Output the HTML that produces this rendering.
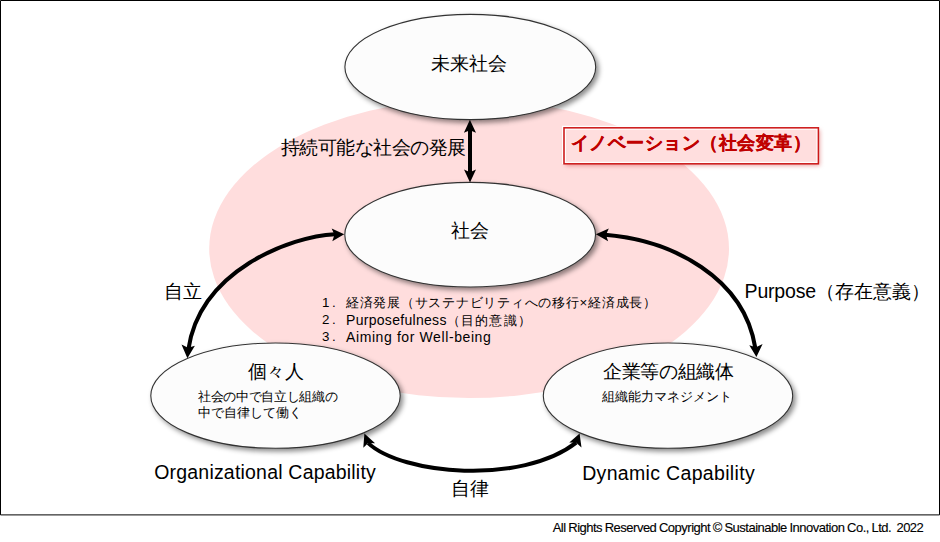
<!DOCTYPE html>
<html lang="ja"><head><meta charset="utf-8"><style>
html,body{margin:0;padding:0;background:#fff;}
body{width:940px;height:542px;overflow:hidden;position:relative;font-family:"Liberation Sans",sans-serif;color:#000;}
svg{position:absolute;left:0;top:0;}
.t{position:absolute;white-space:nowrap;line-height:1;}
</style></head><body>
<svg width="940" height="542" viewBox="0 0 940 542">
<defs>
<filter id="sh" x="-10%" y="-10%" width="125%" height="135%">
<feDropShadow dx="2.6" dy="2.8" stdDeviation="2.8" flood-color="#000" flood-opacity="0.45"/>
</filter>
<filter id="sh2" x="-10%" y="-20%" width="125%" height="160%">
<feDropShadow dx="1.5" dy="2" stdDeviation="2" flood-color="#c00000" flood-opacity="0.35"/>
</filter>
</defs>
<rect x="0" y="0" width="940" height="542" fill="#fff"/>
<ellipse cx="469.1" cy="248.7" rx="259.9" ry="149.3" fill="#ffdddd"/>
<ellipse cx="470.3" cy="67.0" rx="125.4" ry="52.6" fill="#fcfcfc" stroke="#333" stroke-width="1.1" filter="url(#sh)"/>
<ellipse cx="470.15" cy="234.7" rx="125.35" ry="52.3" fill="#fcfcfc" stroke="#333" stroke-width="1.1" filter="url(#sh)"/>
<ellipse cx="275.5" cy="395.65" rx="124.7" ry="52.65" fill="#fcfcfc" stroke="#333" stroke-width="1.1" filter="url(#sh)"/>
<ellipse cx="668.0" cy="395.65" rx="124.7" ry="52.65" fill="#fcfcfc" stroke="#333" stroke-width="1.1" filter="url(#sh)"/>
<rect x="564" y="127.8" width="254.4" height="36" fill="#ffdede" filter="url(#sh2)"/>
<path d="M562.6,164V126.4H819" fill="none" stroke="#fff" stroke-width="1.2"/>
<rect x="565.4" y="129.2" width="251.6" height="33.2" fill="none" stroke="#fff" stroke-width="1.1"/>
<rect x="564" y="127.8" width="254.4" height="36" fill="none" stroke="#cc1818" stroke-width="1.5"/>
<path d="M335.17,234.22C290.81,236.22 200.27,270.12 188.39,349.25" fill="none" stroke="#000" stroke-width="4"/>
<path d="M604.94,234.85C672.39,240.36 744.04,277.31 755.31,347.92" fill="none" stroke="#000" stroke-width="4"/>
<path d="M368.20,443.10C401.89,474.47 521.26,485.32 576.20,442.70" fill="none" stroke="#000" stroke-width="4"/>
<path d="M470,129.5L470,172.8" fill="none" stroke="#000" stroke-width="4"/>
<path d="M344.20,234.30L331.70,228.60L334.44,234.78L332.30,241.20Z" fill="#000"/>
<path d="M187.40,358.20L181.50,344.50L188.04,347.72L194.90,345.70Z" fill="#000"/>
<path d="M595.90,234.30L608.80,228.60L605.94,234.78L608.10,241.20Z" fill="#000"/>
<path d="M756.40,356.90L749.30,345.30L756.04,347.14L762.60,344.10Z" fill="#000"/>
<path d="M364.40,433.50L363.30,447.70L368.24,443.10L375.10,443.30Z" fill="#000"/>
<path d="M579.60,433.50L569.30,442.40L576.24,442.66L581.50,447.50Z" fill="#000"/>
<path d="M469.90,119.70L463.90,132.80L469.94,130.18L476.00,132.80Z" fill="#000"/>
<path d="M470.00,182.60L464.00,169.60L470.00,172.20L476.00,169.60Z" fill="#000"/>
<path d="M0.5,0.5H939.5V514.9H0.5Z" fill="none" stroke="#000" stroke-width="1"/>
</svg>
<div class="t" id="t1" style="left:431px;top:55px;font-size:18.67px">未来社会</div>
<div class="t" id="t2" style="left:280.5px;top:138.5px;font-size:18.67px;letter-spacing:-0.45px">持続可能な社会の発展</div>
<div class="t" id="t3" style="left:570.6px;top:133.8px;font-size:18px;font-weight:bold;color:#c00000;letter-spacing:0.53px;-webkit-text-stroke:0.25px #c00000">イノベーション（社会変革）</div>
<div class="t" id="t4" style="left:451px;top:222px;font-size:18.67px">社会</div>
<div class="t" id="n5a" style="letter-spacing:2.6px;left:322px;top:296px;font-size:13.33px">1.</div>
<div class="t" id="n5b" style="letter-spacing:2.6px;left:322px;top:313px;font-size:13.33px">2.</div>
<div class="t" id="n5c" style="letter-spacing:2.6px;left:322px;top:330px;font-size:13.33px">3.</div>
<div class="t" id="t5a" style="left:346px;top:296px;font-size:13.33px;letter-spacing:0.74px">経済発展（サステナビリティへの移行×経済成長）</div>
<div class="t" id="t5b" style="left:346px;top:313px;font-size:13.33px;letter-spacing:1.2px"><span style="font-size:14px;letter-spacing:0.3px">Purposefulness</span>（目的意識）</div>
<div class="t" id="t5c" style="left:346px;top:330px;font-size:14px;letter-spacing:0.6px">Aiming for Well-being</div>
<div class="t" id="t6" style="left:164px;top:282.9px;font-size:18.67px">自立</div>
<div class="t" id="t7" style="left:744.6px;top:282px;font-size:18.67px"><span style="font-size:19.5px;letter-spacing:-0.2px">Purpose</span>（存在意義）</div>
<div class="t" id="t8" style="left:248px;top:363.1px;font-size:18.67px;letter-spacing:-0.7px">個々人</div>
<div class="t" id="t9a" style="left:198px;top:391px;font-size:12.8px;letter-spacing:-0.35px">社会の中で自立し組織の</div>
<div class="t" id="t9b" style="left:198px;top:406.5px;font-size:12.8px">中で自律して働く</div>
<div class="t" id="t10" style="left:603px;top:363.1px;font-size:18.67px;letter-spacing:-0.37px">企業等の組織体</div>
<div class="t" id="t11" style="left:601.8px;top:390.2px;font-size:13.33px">組織能力マネジメント</div>
<div class="t" id="t12" style="left:154.2px;top:463.4px;font-size:19.5px;letter-spacing:0.2px">Organizational Capability</div>
<div class="t" id="t13" style="left:582.2px;top:463.5px;font-size:19.5px;letter-spacing:0.33px">Dynamic Capability</div>
<div class="t" id="t14" style="left:451.2px;top:480.2px;font-size:18.67px">自律</div>
<div class="t" id="t15" style="left:552.7px;top:521px;font-size:13px;color:#000;letter-spacing:-0.5px;word-spacing:-0.5px;-webkit-text-stroke:0.12px #000">All Rights Reserved Copyright © Sustainable Innovation Co., Ltd.&nbsp; 2022</div>

</body></html>
